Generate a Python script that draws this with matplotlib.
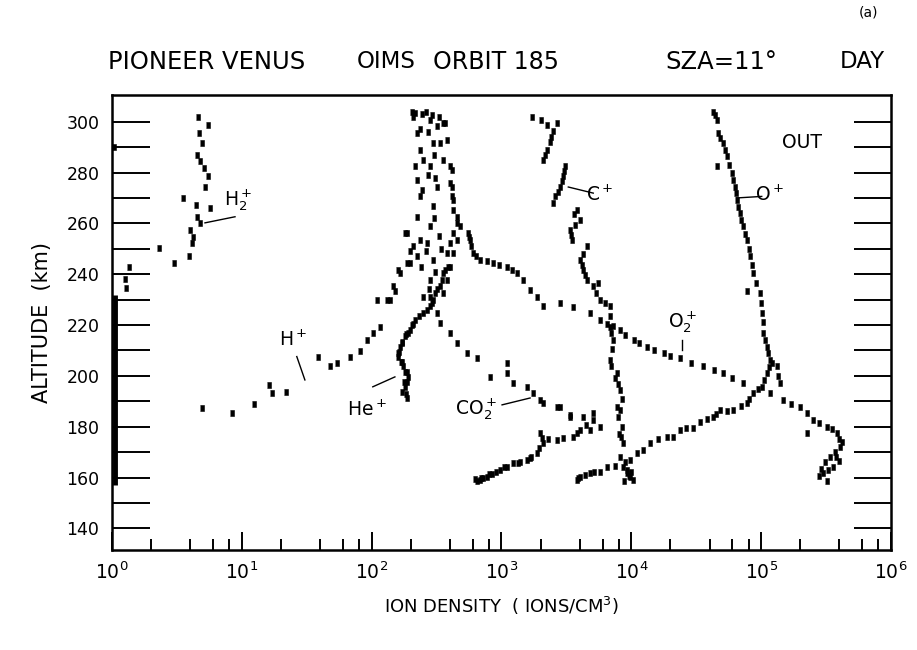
"""Pioneer Venus OIMS ion composition profile, orbit 185 (dayside, SZA = 11 deg).

Altitude versus ion density for H2+, H+, He+, CO2+, C+, O2+ and O+ on the
outbound leg, drawn as individual measurement samples on a log density axis.

Output: out.png
"""
import matplotlib
matplotlib.use("Agg")
import matplotlib.pyplot as plt
import numpy as np
from matplotlib.ticker import FixedLocator, LogLocator, NullFormatter

# ---- samples: density (ions/cm^3), altitude (km) ----------------------------
h2_density = [4.6, 5.5, 4.7, 4.9, 4.5, 4.8, 5.1, 5.5, 5.2, 3.5, 4.4, 5.7, 4.5,
              4.8, 4.0, 4.2, 4.1, 2.3, 3.0, 3.9, 1.34, 1.26, 1.28]
h2_alt = [302, 298.8, 295.5, 291.6, 287, 284.4, 281.8, 278.5, 274.5, 270, 267.3,
          266, 262.7, 260.1, 257.5, 254.8, 252.2, 250.3, 244.6, 247.2, 243, 238,
          234.5]

h_density = [4.9, 8.4, 12.4, 16.3, 17, 21.9, 38.8, 47.8, 53.8, 68, 81.3, 91.6,
             103, 116, 109, 138, 151, 160, 186, 181, 197, 222, 236,
             131, 147, 165, 197, 209, 186, 222, 236, 222, 216, 236, 222, 209]
h_alt = [187.3, 185.3, 189, 196.5, 193.2, 193.8, 207.6, 203.7, 205, 207.6, 209.6,
         214.2, 216.8, 219.4, 229.9, 229.9, 233.2, 241.7, 244.4, 256.2, 249, 247,
         253.5, 230, 235.2, 240.4, 244.4, 250.9, 256.2, 262.7, 270.6, 277.2,
         282.4, 289, 295.5, 302]

he_density = [186, 181, 191, 175, 160, 165, 181, 197, 216, 250, 281, 298, 307,
              336, 356, 389, 378, 401, 426, 452, 426, 413, 401, 413, 356, 336,
              317, 367, 171, 178, 186, 170, 163, 172, 190, 205,
              183, 188, 180, 168, 160, 170, 185, 207, 232, 265, 290, 320, 346, 370,
              281, 298, 281, 317, 298, 281, 265, 298, 281, 250,
              205, 215, 245, 260, 290, 330, 235, 270, 300, 250, 270, 310, 245,
              300, 330, 260, 345, 240, 310, 275]
he_alt = [191.2, 195.8, 199.7, 203.7, 207.6, 211.5, 215.5, 218.1, 222, 224.7,
          227.3, 229.9, 232.6, 235.2, 240.4, 243, 248.3, 252.2, 256.2, 260.1,
          265.4, 270.6, 275.9, 281.1, 285, 291.6, 298.2, 299.5, 193.5, 197.5,
          201.5, 205.5, 209.5, 213.5, 217, 220,
          193, 197.5, 201.5, 205.5, 209, 213, 216.5, 220.5, 223.5, 226, 228.5,
          234, 237.8, 241.7,
          300.8, 291.6, 282.4, 274.5, 266.7, 258.8, 252.2, 245.7, 237.8, 231.2,
          304, 303.5, 303, 304, 302.5, 302, 297, 296, 287, 285, 279, 278, 273,
          262, 255, 249, 250, 243, 241, 234]

co2_density = [281, 317, 336, 401, 452, 540, 644, 816, 1100, 1100, 1230, 1560,
               1760, 2100, 2660, 3370, 4270, 5090, 1980, 2820, 3370, 5740, 4810,
               683, 769, 975, 1230, 1560, 1870, 2100, 1980, 2660, 3570, 4030,
               5090, 620, 700, 850, 1100, 1400, 1700,
               650, 720, 800, 900, 1050, 1330, 1650, 1950, 2050, 2300, 3000,
               3800, 4500]
co2_alt = [231.2, 224.7, 220.7, 216.8, 212.9, 208.9, 206.9, 199.7, 205, 201.1,
           197.1, 195.8, 193.2, 189.2, 187.9, 184, 184, 185.3, 190.6, 187.9,
           184.5, 180, 178.7, 159, 160.4, 163, 165.6, 166.9, 169.5, 173.5, 177.4,
           174.8, 176.1, 178.7, 182.7, 159.5, 159.8, 161.5, 164, 166, 168,
           158.8, 160, 161.3, 162, 164.3, 165.8, 167.8, 171.5, 175.5, 175.2,
           175.6, 177.5, 180.5]

c_density = [1710, 2230, 2660, 2500, 2360, 2230, 2100, 3080, 2990, 2820, 2580,
             2510, 3790, 4030, 3370, 3470, 4530, 4030, 4270, 4530, 5090, 5570,
             5740, 6850, 6850, 7280, 6850, 7710, 8180, 7710, 8180, 8400, 8000,
             8690, 8180, 9200, 10350,
             2000, 2400, 2150, 3030, 2900, 2700, 3600, 3700, 3420, 4280, 4150,
             4400, 5300, 6300, 6900, 7000, 7100, 7000, 7500, 7900, 8400, 7900,
             8300, 8900, 9600]
c_alt = [302, 298.8, 299.5, 296.2, 292.2, 289, 285, 282.4, 278.5, 274.5, 270.6,
         268, 265.4, 261.4, 257.5, 253.5, 250.9, 245.7, 241.7, 237.8, 235.2,
         236.5, 229.9, 227.3, 219.4, 214.2, 206.3, 201.1, 194.5, 187.9, 186.6,
         180, 177, 173.5, 168.2, 161.7, 159,
         300.5, 294, 287, 280.5, 276.5, 272.5, 263.5, 259.5, 255.5, 248, 243.5,
         239.5, 232.5, 228.5, 223.5, 217, 210.5, 204, 199, 197, 191, 184, 176,
         166, 160.5]

o2_density = [301000, 360000, 405000, 382000, 320000, 252000, 224000, 200000,
              148000, 117000, 72900, 51100, 35900, 23700, 17700, 13100, 10400,
              8180, 6460, 224000, 5740, 4810, 3530, 2820, 2100, 1870, 1660, 1470,
              1310, 1100, 865, 683, 607, 572, 556,
              330000, 380000, 395000, 350000, 280000, 170000, 95000, 60000,
              43000, 29000, 20000, 15000, 11500, 9000, 7200, 1200, 960, 770,
              640, 580, 565,
              280000, 310000, 340000, 290000, 370000, 420000, 320000, 400000,
              356, 378, 401, 413, 426, 452, 479, 452, 426, 401, 378, 356]
o2_alt = [161.7, 164.3, 172.2, 177.4, 180, 182.7, 185.3, 187.9, 190.6, 193.2,
          197.1, 201.1, 203.7, 207, 208.9, 211.5, 214.2, 218.1, 220.5, 177.4,
          222, 224.7, 227.2, 228.7, 227.3, 231.2, 233.8, 237.8, 240.4, 243, 244.4,
          245.7, 248.3, 253.5, 256.2,
          163, 168, 175, 179, 181.5, 189, 195, 199, 202.5, 205, 208, 210, 213,
          216, 219.5, 241.5, 243.8, 245, 247, 251, 254.5,
          160.5, 166, 168, 163.5, 170, 174, 158.8, 166.5,
          299.5, 292.9, 282.4, 274.5, 269.3, 262.7, 258.8, 253.5, 248.3, 243,
          237.8, 232.6]

o_density = [42800, 45500, 46800, 45500, 51100, 54300, 59300, 62900, 64800,
             68800, 72900, 77400, 82100, 77400, 87100, 97900, 100900, 104000,
             110400, 117000, 110400, 100900, 131500, 139600,
             44000, 48500, 52500, 57000, 61000, 64000, 66500, 70500, 75000,
             80000, 85000, 92000, 99000, 102500, 107000, 113000, 114000, 105000,
             122000, 135000,
             87100, 77400, 61100, 48200, 42800, 33800, 30000, 23700, 21000,
             18700, 13900, 11000, 8670, 6460, 5740, 4810, 4030, 3790, 9770,
             80000, 70000, 55000, 45000, 38000, 26500, 16000, 12300, 9800, 7500,
             5200, 4400, 3900, 9300, 8800, 10000]
o_alt = [304, 300.8, 295.5, 282.4, 291.6, 286.4, 279.8, 274.5, 269.3, 264,
         258.8, 253.5, 247, 233.2, 240.4, 232.6, 224.7, 216.8, 211.5, 206.3,
         201.1, 195.8, 203.7, 197.1,
         302.5, 293.5, 289, 283, 277, 272, 266.5, 261.5, 256, 250, 243.5, 236.5,
         228.5, 221, 214, 209, 203.5, 198.5, 205, 200,
         193.2, 189.2, 186.6, 186.6, 184, 182, 179.4, 178.7, 176.1, 176.1, 173.5,
         169.5, 164.3, 164.3, 162.3, 161.7, 160.4, 159, 160.4,
         191, 188, 186, 185, 183, 179.5, 175, 171, 167, 164.5, 162, 161, 159.8,
         163, 158.8, 162]

# samples pinned at the instrument floor, plus the lone one at 290 km
floor_density = 1.05
floor_alt = [157, 232]
stray_density = [1.03]
stray_alt = [290]

# species labels: (text, density, altitude)
labels = [
    (r"H$_2^+$", 9.3, 269.3),
    (r"H$^+$", 24.8, 214.2),
    (r"He$^+$", 92, 186.6),
    (r"CO$_2^+$", 637, 187.0),
    (r"C$^+$", 5740, 271.0),
    (r"O$_2^+$", 25000, 221.0),
    (r"O$^+$", 117000, 271.0),
    ("OUT", 206000, 291.7),
]
# leader lines from label to profile: ((d0, a0), (d1, a1))
leaders = [
    ((8.86, 262.6), (5.2, 260.2)),
    ((26.5, 207.6), (30.6, 198.4)),
    ((102, 195.7), (151, 199.6)),
    ((1010, 188.6), (1660, 191.3)),
    ((3270, 274.3), (5090, 271.9)),
    ((24400, 214.2), (24400, 210.2)),
    ((64800, 270.0), (101000, 270.6)),
]

title_parts = [("PIONEER VENUS", 108, 17.5), ("OIMS", 357, 16.5),
               ("ORBIT 185", 433, 17), ("SZA=11°", 665, 17.5), ("DAY", 840, 16.5)]

W_PX, H_PX = 917, 650

# small vertical dash, like the plotter marks
DASH = [(-0.6, -1.0), (0.6, -1.0), (0.6, 1.0), (-0.6, 1.0)]


def _samples(ax, dens, alt):
    ax.plot(dens, alt, ls="none", marker=DASH, ms=5.0, color="k", mew=0.4)


def _style_axes(ax):
    ax.set_xscale("log")
    ax.set_xlim(1, 1e6)
    ax.set_ylim(131.5, 310.5)
    for s in ax.spines.values():
        s.set_linewidth(1.8)

    ax.xaxis.set_minor_locator(LogLocator(base=10, subs=(2, 4, 6, 8), numticks=10))
    ax.xaxis.set_minor_formatter(NullFormatter())
    ax.set_xticks([10.0 ** k for k in range(7)])
    ax.set_xticklabels([rf"$10^{{{k}}}$" for k in range(7)], fontsize=13.5)
    ax.tick_params(axis="x", which="major", direction="in", length=13, width=1.4,
                   pad=8, top=False)
    ax.tick_params(axis="x", which="minor", direction="in", length=8, width=1.4,
                   top=False)

    ax.yaxis.set_major_locator(FixedLocator(np.arange(140, 301, 20)))
    ax.yaxis.set_minor_locator(FixedLocator(np.arange(150, 301, 20)))
    ax.tick_params(axis="y", which="both", direction="in", length=27, width=1.4,
                   left=True, right=True, labelsize=12.5, pad=9)

    ax.set_xlabel(r"ION DENSITY  ( IONS/CM$^3$)", fontsize=13, labelpad=9)
    ax.set_ylabel("ALTITUDE  (km)", fontsize=15, labelpad=10)


def main():
    fig = plt.figure(figsize=(W_PX / 100, H_PX / 100), dpi=100)
    ax = fig.add_axes([112 / W_PX, 1 - 550 / H_PX, (891 - 112) / W_PX,
                       (550 - 95) / H_PX])
    _style_axes(ax)

    for dens, alt in [(h2_density, h2_alt), (h_density, h_alt),
                      (he_density, he_alt), (co2_density, co2_alt),
                      (c_density, c_alt), (o2_density, o2_alt),
                      (o_density, o_alt)]:
        _samples(ax, dens, alt)
    _samples(ax, stray_density, stray_alt)
    ax.plot([floor_density, floor_density], floor_alt, color="k", lw=3.5,
            solid_capstyle="butt")

    for txt, d, a in labels:
        ax.text(d, a, txt, fontsize=13.5, ha="center", va="center")
    for (d0, a0), (d1, a1) in leaders:
        ax.plot([d0, d1], [a0, a1], color="k", lw=1.0)

    for txt, x0, fs in title_parts:
        fig.text(x0 / W_PX, 1 - 62 / H_PX, txt, fontsize=fs, ha="left",
                 va="center")
    fig.text(868 / W_PX, 1 - 13 / H_PX, "(a)", fontsize=10, ha="center",
             va="center")

    fig.savefig("out.png", dpi=100)
    plt.close(fig)


if __name__ == "__main__":
    main()
